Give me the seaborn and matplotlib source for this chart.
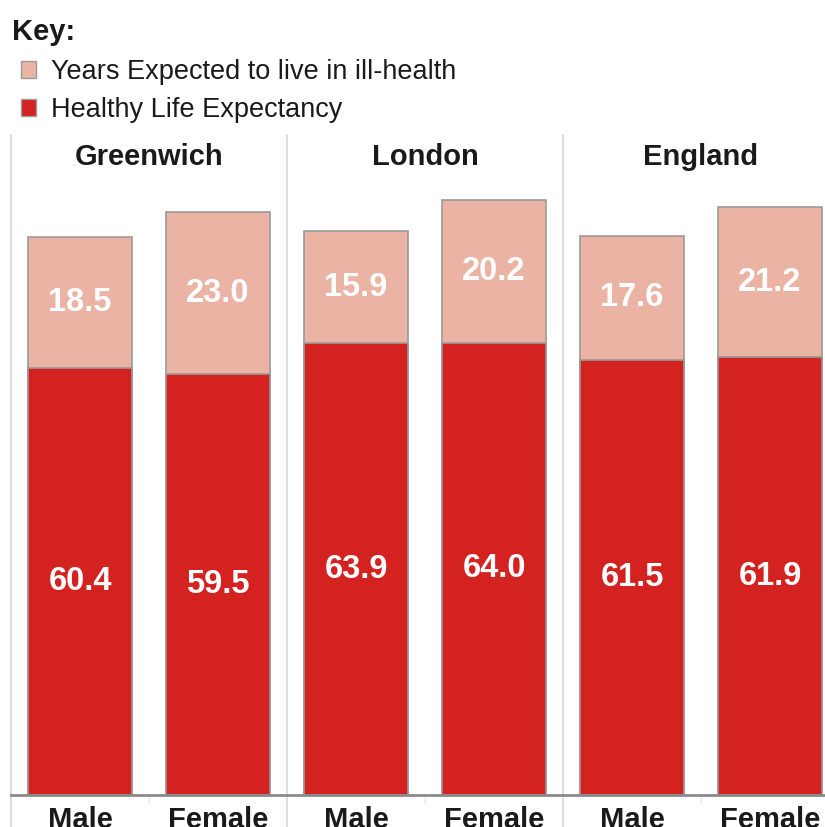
import numpy as np
import pandas as pd
import matplotlib
matplotlib.use('Agg')
import matplotlib.pyplot as plt
from matplotlib.patches import Patch
import seaborn as sns

areas = ["Greenwich", "London", "England"]
sexes = ["Male", "Female"]
healthy = [60.4, 59.5, 63.9, 64.0, 61.5, 61.9]
ill = [18.5, 23.0, 15.9, 20.2, 17.6, 21.2]

red = '#D3221F'
pink = '#EBB3A3'
edge = '#9a9a9a'

cats = [a + " " + s for a in areas for s in sexes]
df = pd.DataFrame({"cat": cats,
                   "healthy": healthy,
                   "ill": ill})
df["total"] = df["healthy"] + df["ill"]

sns.set_theme(style="white")
plt.rcParams['font.family'] = ['Liberation Sans', 'DejaVu Sans']

fig = plt.figure(figsize=(8.25, 8.27), dpi=100)
# axes runs a bit past the right edge like the original crop
ax = fig.add_axes([11/825, 32/827, 828/825, 660/827])

sns.barplot(data=df, x="cat", y="total", color=pink, width=0.75,
            edgecolor=edge, linewidth=1.2, saturation=1, ax=ax)
sns.barplot(data=df, x="cat", y="healthy", color=red, width=0.75,
            edgecolor=edge, linewidth=1.2, saturation=1, ax=ax)

ax.set_xlim(-0.5, 5.5)
ax.set_ylim(0, 93.35)
ax.set_xlabel("")
ax.set_ylabel("")
ax.set_yticks([])
ax.set_xticks(range(len(cats)))
ax.set_xticklabels(sexes * 3, fontsize=21, fontweight='bold', color='#1a1a1a')
ax.tick_params(axis='x', length=0, pad=8)

for s in ["top", "right", "left"]:
    ax.spines[s].set_visible(False)
ax.spines["bottom"].set_color('#8a8a8a')
ax.spines["bottom"].set_linewidth(2)

# panel separators
for xs in [-0.5, 1.5, 3.5]:
    ax.plot([xs, xs], [-5, 93.35], color='#d9d9d9', lw=1.3, clip_on=False, zorder=0)
for xs in [0.5, 2.5, 4.5]:
    ax.plot([xs, xs], [-0.3, -1.2], color='#e6e6e6', lw=1, clip_on=False)

for i, a in enumerate(areas):
    ax.text(2 * i + 0.5, 90.2, a, ha='center', va='center',
            fontsize=21, fontweight='bold', color='#1a1a1a')

for i in range(len(cats)):
    ax.text(i, healthy[i] / 2, f"{healthy[i]:.1f}", ha='center', va='center',
            fontsize=23.5, fontweight='bold', color='white')
    ax.text(i, healthy[i] + ill[i] / 2, f"{ill[i]:.1f}", ha='center', va='center',
            fontsize=23.5, fontweight='bold', color='white')

fig.text(12/825, 1 - 32/827, "Key:", fontsize=21, fontweight='bold',
         color='#1a1a1a', va='center', ha='left')
handles = [Patch(facecolor=pink, edgecolor=edge, label="Years Expected to live in ill-health"),
           Patch(facecolor=red, edgecolor=edge, label="Healthy Life Expectancy")]
fig.legend(handles=handles, loc='upper left', bbox_to_anchor=(21/825, 1 - 59/827),
           frameon=False, fontsize=19.5, handlelength=0.55, handleheight=0.55,
           handletextpad=0.55, labelspacing=0.45, borderpad=0, borderaxespad=0,
           labelcolor='#1a1a1a')

fig.savefig("out.png", dpi=100)
